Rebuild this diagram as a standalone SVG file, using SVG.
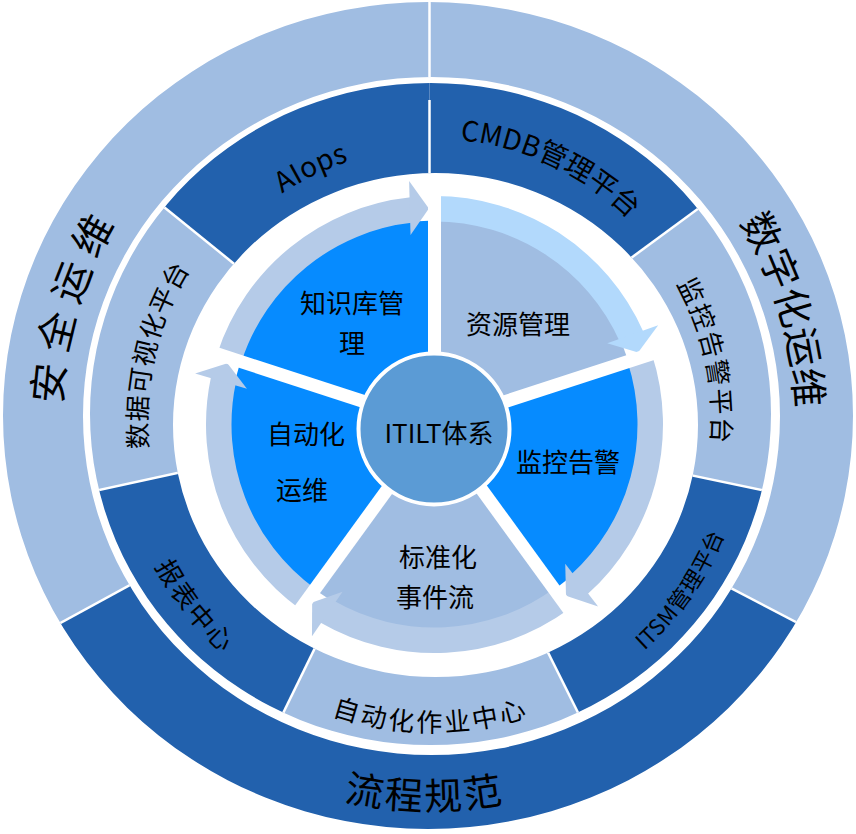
<svg xmlns="http://www.w3.org/2000/svg" width="856" height="834" viewBox="0 0 856 834">
<defs>
<style>
.lt{fill:#a0bde2}
.dk{fill:#2261ad}
.br{fill:#068bff}
.ps{fill:#a0bde2}
.band{fill:#b5cbe8}
.band2{fill:#b2d9fc}
.rdiv{stroke:#fff;stroke-width:2.5;fill:none}
.pdiv{stroke:#fff;stroke-width:13}
text{font-family:"Noto Sans CJK SC","Microsoft YaHei",sans-serif;fill:#000}
.ring{dominant-baseline:central}
</style>
<clipPath id="outerRing"><path clip-rule="evenodd" d="M 3,415.5 a 425,413.5 0 1,0 850,0 a 425,413.5 0 1,0 -850,0 Z M 83,416 a 348.5,339 0 1,0 697,0 a 348.5,339 0 1,0 -697,0 Z"/></clipPath>
<clipPath id="midRing"><path clip-rule="evenodd" d="M 90,414 a 340.5,331 0 1,0 681,0 a 340.5,331 0 1,0 -681,0 Z M 173,425 a 262.5,252 0 1,0 525,0 a 262.5,252 0 1,0 -525,0 Z"/></clipPath>
<path id="pOut1" d="M 74.31,563.33 A 385,385 0 0,1 223.14,91.29"/>
<path id="pOut2" d="M 640.84,97.45 A 382,382 0 0,1 780.31,568.33"/>
<path id="pOut3" d="M 183.16,700.96 A 377,377 0 0,0 667.85,708.5"/>
<path id="pAI" d="M 174.06,303.36 A 284,284 0 0,1 502.91,144.74"/>
<path id="pCMDB" d="M 309.17,154.45 A 293,293 0 0,1 716.02,344.17"/>
<path id="pMon" d="M 569.62,163.06 A 291,291 0 0,1 662.31,599.16"/>
<path id="pITSM" d="M 513.97,711.98 A 303,303 0 0,0 734.61,390.96"/>
<path id="pAuto" d="M 237.86,648.56 A 300,300 0 0,0 623.24,651.05"/>
<path id="pRep" d="M 131.2,408.93 A 302,302 0 0,0 369.7,715.29"/>
<path id="pVis" d="M 166.89,554.13 A 298,298 0 0,1 254.7,181.22"/>
<polygon id="arrowHead" points="650.5,424.5 678.5,405.5 624.5,405.5"/>
</defs>

<!-- outer ring -->
<g id="outer-security">
<polygon class="lt" clip-path="url(#outerRing)" points="430,416 198.5,547.7 -203.4,767 -210,767 -210,-20 429.5,-20 429.5,200"/>
<text class="ring" font-size="40" letter-spacing="12"><textPath href="#pOut1" startOffset="50%" text-anchor="middle">安全运维</textPath></text>
</g>
<g id="outer-digital">
<polygon class="lt" clip-path="url(#outerRing)" points="430,416 429.5,200 429.5,-20 1070,-20 1070,762.2 1064,762.2 662.4,552.3"/>
<text class="ring" font-size="39" letter-spacing="2"><textPath href="#pOut2" startOffset="50%" text-anchor="middle">数字化运维</textPath></text>
</g>
<g id="outer-process">
<polygon class="dk" clip-path="url(#outerRing)" points="430,416 662.4,552.3 1064,762.2 1064,1000 -203.4,1000 -203.4,767 198.5,547.7"/>
<text class="ring" font-size="38" letter-spacing="1"><textPath href="#pOut3" startOffset="50%" text-anchor="middle">流程规范</textPath></text>
</g>
<g id="outer-dividers" class="rdiv" clip-path="url(#outerRing)">
<line x1="429.5" y1="0" x2="429.5" y2="200"/>
<line x1="198.5" y1="547.7" x2="-64.9" y2="691.4"/>
<line x1="662.4" y1="552.3" x2="928.2" y2="691.2"/>
</g>

<!-- middle ring -->
<g id="mid-aiops">
<polygon class="dk" clip-path="url(#midRing)" points="433,420 279.7,300.7 -78,11.4 -78,-100 429.5,-100 429.5,200"/>
<text class="ring" font-size="28" letter-spacing="1"><textPath href="#pAI" startOffset="50%" text-anchor="middle">AIops</textPath></text>
</g>
<g id="mid-cmdb">
<polygon class="dk" clip-path="url(#midRing)" points="433,420 429.5,200 429.5,-100 954.4,-100 954.4,20.5 583.6,292.8"/>
<text class="ring" font-size="28" letter-spacing="1"><textPath href="#pCMDB" startOffset="50%" text-anchor="middle">CMDB管理平台</textPath></text>
</g>
<g id="mid-monitor">
<polygon class="lt" clip-path="url(#midRing)" points="433,420 583.6,292.8 954.4,20.5 1100,20.5 1100,557.7 1084.6,557.7 634.3,463.4"/>
<text class="ring" font-size="26" letter-spacing="3"><textPath href="#pMon" startOffset="50%" text-anchor="middle">监控告警平台</textPath></text>
</g>
<g id="mid-itsm">
<polygon class="dk" clip-path="url(#midRing)" points="433,420 634.3,463.4 1084.6,557.7 1100,557.7 1100,1017 729.7,1017 524.5,605.3"/>
<text class="ring" font-size="22"><textPath href="#pITSM" startOffset="50%" text-anchor="middle">ITSM管理平台</textPath></text>
</g>
<g id="mid-autojob">
<polygon class="lt" clip-path="url(#midRing)" points="433,420 524.5,605.3 729.7,1017 136.1,1013.9 338,600.8"/>
<text class="ring" font-size="26" letter-spacing="1.7"><textPath href="#pAuto" startOffset="50%" text-anchor="middle">自动化作业中心</textPath></text>
</g>
<g id="mid-report">
<polygon class="dk" clip-path="url(#midRing)" points="433,420 338,600.8 136.1,1013.9 -214.8,1013.9 -214.8,558.5 234.6,460.5"/>
<text class="ring" font-size="26" letter-spacing="1"><textPath href="#pRep" startOffset="50%" text-anchor="middle">报表中心</textPath></text>
</g>
<g id="mid-visual">
<polygon class="lt" clip-path="url(#midRing)" points="433,420 234.6,460.5 -214.8,558.5 -214.8,11.4 -78,11.4 279.7,300.7"/>
<text class="ring" font-size="26" letter-spacing="2"><textPath href="#pVis" startOffset="50%" text-anchor="middle">数据可视化平台</textPath></text>
</g>
<g id="mid-dividers" class="rdiv" clip-path="url(#midRing)">
<line x1="429.5" y1="100" x2="429.5" y2="260"/>
<line x1="279.7" y1="300.7" x2="-78" y2="11.4"/>
<line x1="583.6" y1="292.8" x2="954.4" y2="20.5"/>
<line x1="634.3" y1="463.4" x2="1084.6" y2="557.7"/>
<line x1="524.5" y1="605.3" x2="729.7" y2="1017"/>
<line x1="338" y1="600.8" x2="136.1" y2="1013.9"/>
<line x1="234.6" y1="460.5" x2="-214.8" y2="558.5"/>
</g>

<!-- inner pie sectors -->
<g id="sector-knowledge">
<path class="br" d="M 434.5,424.5 L 240.48,361.46 A 204,204 0 0,1 434.5,220.5 Z"/>
<text font-size="26" text-anchor="middle"><tspan x="352" y="312.5">知识库管</tspan><tspan x="352" y="352.5">理</tspan></text>
</g>
<g id="sector-resource">
<path class="ps" d="M 434.5,424.5 L 434.5,220.5 A 204,204 0 0,1 628.52,361.46 Z"/>
<text x="518" y="333.5" font-size="26" text-anchor="middle">资源管理</text>
</g>
<g id="sector-monitor">
<path class="br" d="M 434.5,424.5 L 628.52,361.46 A 204,204 0 0,1 554.41,589.54 Z"/>
<text x="568" y="472" font-size="26" text-anchor="middle">监控告警</text>
</g>
<g id="sector-event">
<path class="ps" d="M 434.5,424.5 L 554.41,589.54 A 204,204 0 0,1 314.59,589.54 Z"/>
<text font-size="26" text-anchor="middle"><tspan x="438" y="567">标准化</tspan><tspan x="435" y="607">事件流</tspan></text>
</g>
<g id="sector-auto">
<path class="br" d="M 434.5,424.5 L 314.59,589.54 A 204,204 0 0,1 240.48,361.46 Z"/>
<text font-size="26" text-anchor="middle"><tspan x="306" y="443.5">自动化</tspan><tspan x="302" y="500">运维</tspan></text>
</g>

<!-- cycle arrows -->
<g id="connectors">
<path class="band" d="M 217.18,353.89 A 228.5,228.5 0 0,1 410.62,197.25 L 413.28,222.61 A 203,203 0 0,0 241.44,361.77 Z"/>
<use href="#arrowHead" class="band" transform="rotate(-91.5 434.5 424.5)"/>
<path class="band2" d="M 434.5,196 A 228.5,228.5 0 0,1 643.24,331.56 L 619.95,341.93 A 203,203 0 0,0 434.5,221.5 Z"/>
<use href="#arrowHead" class="band2" transform="rotate(-19.5 434.5 424.5)"/>
<path class="band" d="M 651.82,353.89 A 228.5,228.5 0 0,1 587.40,594.31 L 570.33,575.36 A 203,203 0 0,0 627.56,361.77 Z"/>
<use href="#arrowHead" class="band" transform="rotate(52.5 434.5 424.5)"/>
<path class="band" d="M 568.81,609.36 A 228.5,228.5 0 0,1 320.25,622.39 L 333.0,600.3 A 203,203 0 0,0 553.82,588.73 Z"/>
<use href="#arrowHead" class="band" transform="rotate(124.5 434.5 424.5)"/>
<path class="band" d="M 300.19,609.36 A 228.5,228.5 0 0,1 210.99,376.99 L 235.94,382.29 A 203,203 0 0,0 315.18,588.73 Z"/>
<use href="#arrowHead" class="band" transform="rotate(196.5 434.5 424.5)"/>
</g>

<g id="pie-dividers" class="pdiv">
<line x1="434.5" y1="424.5" x2="201.49" y2="348.79"/>
<line x1="434.5" y1="424.5" x2="434.5" y2="179.5"/>
<line x1="434.5" y1="424.5" x2="667.51" y2="348.79"/>
<line x1="434.5" y1="424.5" x2="578.51" y2="622.71"/>
<line x1="434.5" y1="424.5" x2="290.49" y2="622.71"/>
</g>

<g id="center-itil">
<circle cx="434" cy="429" r="75.5" fill="#5b9bd5" stroke="#fff" stroke-width="4"/>
<text x="439" y="442.5" font-size="26" text-anchor="middle">ITILT体系</text>
</g>
</svg>
